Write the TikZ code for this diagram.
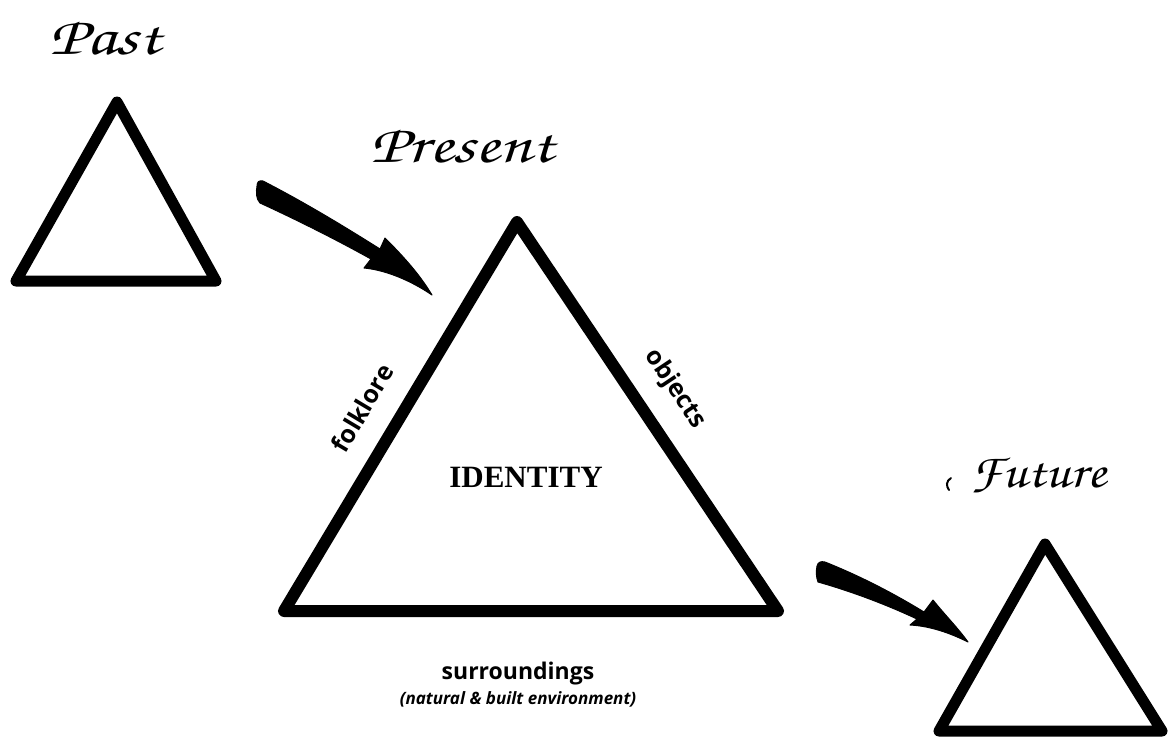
\documentclass[tikz,border=0pt]{standalone}
\usepackage[T1]{fontenc}
\usepackage{fontspec}
\setmainfont{Liberation Serif}
\newfontfamily\labelsans{Open Sans}
\newcommand{\scriptlabel}{\fontencoding{T1}\fontfamily{pzc}\fontseries{m}\fontshape{it}\selectfont}
\begin{document}
\begin{tikzpicture}[x=1pt,y=-1pt,
  tri/.style={line width=11pt,line join=round,draw=black},
  era/.style={font=\scriptlabel\fontsize{54}{54}\selectfont,inner sep=0pt,xscale=1.3},
  side/.style={font=\labelsans\bfseries\fontsize{25}{25}\selectfont,inner sep=0pt},
  blob/.style={fill=black,draw=black,line width=1pt,line join=round}]
\useasboundingbox (0,0) rectangle (1172,740);

% triangles
\draw[tri] (117,102) coordinate (pa) -- (16,281) coordinate (pl) -- (216,281) coordinate (pr) -- cycle;
\draw[tri,line width=12pt] (517,222) coordinate (ca) -- (284,611) coordinate (cl) -- (778,611) coordinate (cr) -- cycle;
\draw[tri] (1045,544) coordinate (fa) -- (939,731) coordinate (fl) -- (1162,731) coordinate (fr) -- cycle;

% era titles
\node[era] (past) at (105,38) {Past};
\node[era] (present) at (462,146) {Present};
\node[era,font=\scriptlabel\fontsize{48}{48}\selectfont,xscale=1.15/1.3] (future) at (1038,476) {Future};
% small pen stroke before the last title
\draw[line width=2pt,line cap=round] (951,478) .. controls (946,481) and (946,486) .. (949,490);

% labels of the identity triangle
\node[font=\bfseries\fontsize{31}{31}\selectfont,inner sep=0pt] (identity) at (526,477) {IDENTITY};
\node[side,rotate=59.2] (folklore) at (362,408) {folklore};
\node[side,rotate=-56.2] (objects) at (675,389) {objects};
\node[side,font=\labelsans\bfseries\fontsize{23}{23}\selectfont] (surr) at (518,674) {surroundings};
\node[font=\labelsans\bfseries\itshape\fontsize{17}{17}\selectfont,inner sep=0pt] (env) at (518,699) {(natural \& built environment)};

% hand-drawn arrows
\fill[blob] (257,186) .. controls (257,182) and (259,180) .. (263,181)
  .. controls (302,201) and (342,225) .. (380,249)
  -- (385,238) .. controls (405,258) and (420,275) .. (432,295)
  .. controls (410,280) and (385,270) .. (364,268)
  -- (371,259) .. controls (335,239) and (297,220) .. (260,203)
  .. controls (256,199) and (256,192) .. (257,186) -- cycle;
\fill[blob] (817,566) .. controls (818,562) and (821,561) .. (825,562)
  .. controls (860,576) and (893,593) .. (924,612)
  -- (933,600) .. controls (945,615) and (958,628) .. (968,642)
  .. controls (950,633) and (930,626) .. (910,625)
  -- (917,619) .. controls (885,604) and (850,591) .. (818,582)
  .. controls (816,577) and (816,571) .. (817,566) -- cycle;
\end{tikzpicture}
\end{document}
